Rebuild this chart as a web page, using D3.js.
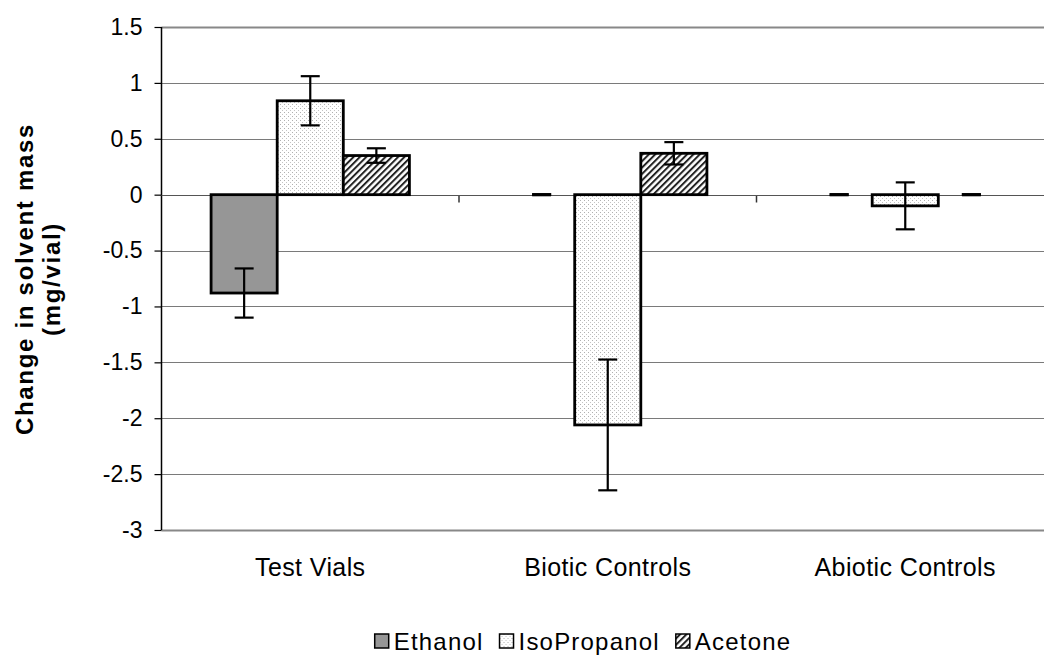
<!DOCTYPE html>
<html>
<head>
<meta charset="utf-8">
<script src="https://cdn.jsdelivr.net/npm/d3@7"></script>
<style>
  html, body { margin: 0; padding: 0; background: #fff; }
  svg { display: block; font-family: "Liberation Sans", Arial, sans-serif; }
</style>
</head>
<body>
<svg id="chart" width="1044" height="659"></svg>
<script>
// Solvent mass change per vial, by treatment group
const categories = ["Test Vials", "Biotic Controls", "Abiotic Controls"];
const seriesNames = ["Ethanol", "IsoPropanol", "Acetone"];
const ethanol = [-0.88, 0, 0];
const isopropanol = [0.84, -2.06, -0.10];
const acetone = [0.35, 0.37, 0];
const ethanolErr = [0.22, 0, 0];
const isopropanolErr = [0.22, 0.585, 0.21];
const acetoneErr = [0.065, 0.10, 0];
const yTicks = [1.5, 1, 0.5, 0, -0.5, -1, -1.5, -2, -2.5, -3];
const yTickLabels = ["1.5", "1", "0.5", "0", "-0.5", "-1", "-1.5", "-2", "-2.5", "-3"];

const seriesValues = [ethanol, isopropanol, acetone];
const seriesErrors = [ethanolErr, isopropanolErr, acetoneErr];

const svg = d3.select("#chart");
const plotLeft = 161.5, plotTop = 27, plotBottom = 530, bandW = 297.5;
const plotRight = plotLeft + bandW * categories.length;

const x = d3.scaleBand().domain(categories).range([plotLeft, plotRight]).padding(0);
const y = d3.scaleLinear().domain([-3, 1.5]).range([plotBottom, plotTop]);
const barW = x.bandwidth() * 2 / 9;
const inner = d3.scaleBand().domain(seriesNames)
  .range([-1.5 * barW, 1.5 * barW]).padding(0);

// fill patterns
const defs = svg.append("defs");
const dots = defs.append("pattern").attr("id", "dots")
  .attr("patternUnits", "userSpaceOnUse").attr("width", 4).attr("height", 4);
dots.append("rect").attr("width", 4).attr("height", 4).attr("fill", "#fff");
dots.append("rect").attr("x", 0).attr("y", 0).attr("width", 1).attr("height", 1).attr("fill", "#b0b0b0");
dots.append("rect").attr("x", 2).attr("y", 2).attr("width", 1).attr("height", 1).attr("fill", "#c4c4c4");

const hatch = defs.append("pattern").attr("id", "hatch")
  .attr("patternUnits", "userSpaceOnUse").attr("width", 4.5).attr("height", 4.5)
  .attr("patternTransform", "rotate(45)");
hatch.append("rect").attr("width", 4.5).attr("height", 4.5).attr("fill", "#fff");
hatch.append("rect").attr("x", 0).attr("y", 0).attr("width", 2).attr("height", 4.5).attr("fill", "#222");

const fills = ["#969696", "url(#dots)", "url(#hatch)"];

// gridlines
svg.append("g").selectAll("line").data(yTicks).join("line")
  .attr("x1", plotLeft).attr("x2", plotRight)
  .attr("y1", d => Math.round(y(d)) + 0.5).attr("y2", d => Math.round(y(d)) + 0.5)
  .attr("stroke", d => (d === 1.5 || d === -3) ? "#888" : "#7a7a7a")
  .attr("stroke-width", d => (d === 1.5 || d === -3) ? 2 : 1.2);

// y axis
const yAxis = d3.axisLeft(y).tickValues(yTicks)
  .tickFormat((d, i) => yTickLabels[i]).tickSize(7).tickPadding(12);
const gy = svg.append("g").attr("transform", `translate(${plotLeft},0)`).call(yAxis);
gy.select(".domain").attr("stroke", "#000").attr("stroke-width", 1.5).attr("d", `M0,${plotTop}V${plotBottom}`);
gy.selectAll(".tick line").attr("stroke", "#000").attr("stroke-width", 1.2);
gy.selectAll(".tick text").attr("font-size", 23).attr("fill", "#000")
  .attr("font-family", "Liberation Sans, Arial, sans-serif");

// x axis along zero, ticks at category boundaries
const zeroY = Math.round(y(0)) + 0.5;
const boundaries = d3.range(1, categories.length).map(i => plotLeft + i * x.bandwidth());
svg.append("g").selectAll("line").data(boundaries).join("line")
  .attr("x1", d => d).attr("x2", d => d)
  .attr("y1", zeroY).attr("y2", zeroY + 7)
  .attr("stroke", "#333").attr("stroke-width", 1.5);
svg.append("line").attr("x1", plotLeft).attr("x2", plotRight)
  .attr("y1", zeroY).attr("y2", zeroY).attr("stroke", "#555").attr("stroke-width", 1.2);

// category labels
svg.append("g").selectAll("text").data(categories).join("text")
  .attr("x", d => x(d) + x.bandwidth() / 2).attr("y", 576)
  .attr("text-anchor", "middle").attr("font-size", 25).attr("letter-spacing", 0.4)
  .attr("fill", "#000")
  .text(d => d);

// bars
const rows = [];
seriesNames.forEach((s, si) => categories.forEach((c, ci) => {
  rows.push({ s, si, c, v: seriesValues[si][ci], e: seriesErrors[si][ci] });
}));
const cx = d => x(d.c) + x.bandwidth() / 2 + inner(d.s);

svg.append("g").selectAll("rect").data(rows.filter(d => d.v !== 0)).join("rect")
  .attr("x", d => cx(d)).attr("width", inner.bandwidth())
  .attr("y", d => y(Math.max(0, d.v)))
  .attr("height", d => Math.abs(y(d.v) - y(0)))
  .attr("fill", d => fills[d.si])
  .attr("stroke", "#000").attr("stroke-width", 2.8);

// error bars
const eb = svg.append("g").attr("stroke", "#000").attr("stroke-width", 2.2);
const capW = 9.5;
rows.forEach(d => {
  const mx = cx(d) + inner.bandwidth() / 2;
  const y1 = y(d.v + d.e), y2 = y(d.v - d.e);
  eb.append("line").attr("x1", mx).attr("x2", mx).attr("y1", y1).attr("y2", y2);
  [y1, y2].forEach(yy => eb.append("line")
    .attr("x1", mx - capW).attr("x2", mx + capW).attr("y1", yy).attr("y2", yy)
    .attr("stroke-width", d.e === 0 ? 3 : 2.2));
});

// y axis title
const title = svg.append("text").attr("transform", "translate(0,279) rotate(-90)")
  .attr("text-anchor", "middle").attr("font-size", 24).attr("font-weight", "bold")
  .attr("letter-spacing", 1.7).attr("fill", "#000");
title.append("tspan").attr("x", 0).attr("y", 33).text("Change in solvent mass");
title.append("tspan").attr("x", 0).attr("y", 60).text("(mg/vial)");

// legend
const legend = svg.append("g");
let lx = 0;
seriesNames.forEach((s, i) => {
  const g = legend.append("g").attr("transform", `translate(${lx},0)`);
  g.append("rect").attr("x", 0).attr("y", -16).attr("width", 14).attr("height", 14)
    .attr("fill", fills[i]).attr("stroke", "#000").attr("stroke-width", 1.5);
  const t = g.append("text").attr("x", 19).attr("y", 0).attr("font-size", 24)
    .attr("letter-spacing", 1.2).attr("fill", "#000").text(s);
  lx += 19 + t.node().getComputedTextLength() + 16;
});
const legendW = lx - 16;
legend.attr("transform", `translate(${583 - legendW / 2},650)`);
</script>
</body>
</html>
